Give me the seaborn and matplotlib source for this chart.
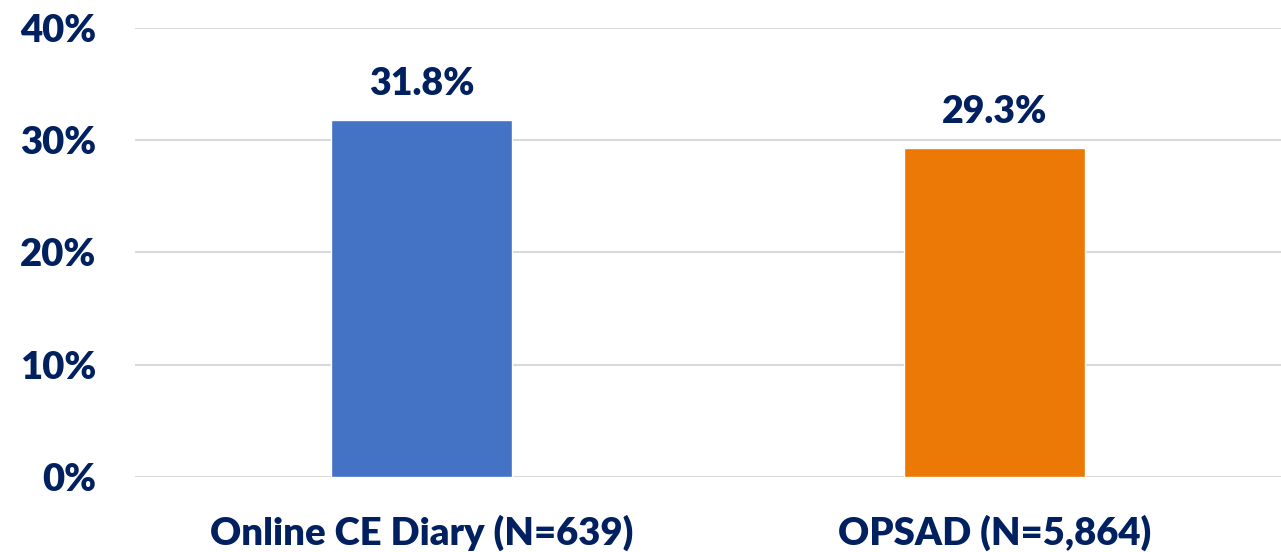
import pandas as pd
import matplotlib.pyplot as plt
import matplotlib.ticker as mtick
import seaborn as sns

# values
categories = ['Online CE Diary (N=639)', 'OPSAD (N=5,864)']
shares = [31.8, 29.3]
bar_colors = ['#4472C4', '#EC7806']

navy = '#002060'

df = pd.DataFrame({'group': categories, 'share': shares})

sns.set_style('white')
plt.rcParams['font.family'] = ['Lato', 'DejaVu Sans']

fig = plt.figure(figsize = (12.81, 5.52), dpi = 100)
ax = fig.add_axes([135 / 1281, 1 - 477 / 552, 1 - 135 / 1281, (477 - 28) / 552])

sns.barplot(data = df, x = 'group', y = 'share', hue = 'group',
            palette = bar_colors, width = 0.315, saturation = 1,
            legend = False, ax = ax, zorder = 3)

ax.set_xlim(-0.5, 1.5)
ax.set_ylim(0, 40)
ax.set_yticks([0, 10, 20, 30, 40])
ax.yaxis.set_major_formatter(mtick.FuncFormatter(lambda v, _: f'{v:.0f}%'))
ax.grid(axis = 'y', color = '#D9D9D9', linewidth = 1.5, zorder = 0)
ax.set_axisbelow(True)
for side in ['top', 'right', 'left', 'bottom']:
    ax.spines[side].set_visible(False)

ax.set_xlabel('')
ax.set_ylabel('')
ax.tick_params(axis = 'y', length = 0, pad = 28, labelsize = 27.5, labelcolor = navy)
ax.tick_params(axis = 'x', length = 0, pad = 27, labelsize = 27.5, labelcolor = navy)
for lbl in ax.get_xticklabels() + ax.get_yticklabels():
    lbl.set_fontweight('heavy')

for i, v in enumerate(shares):
    ax.annotate(f'{v:.1f}%', (i, v), xytext = (0, 14), textcoords = 'offset points',
                ha = 'center', va = 'bottom', fontsize = 27, fontweight = 'heavy', color = navy)

fig.savefig('out.png', dpi = 100)
